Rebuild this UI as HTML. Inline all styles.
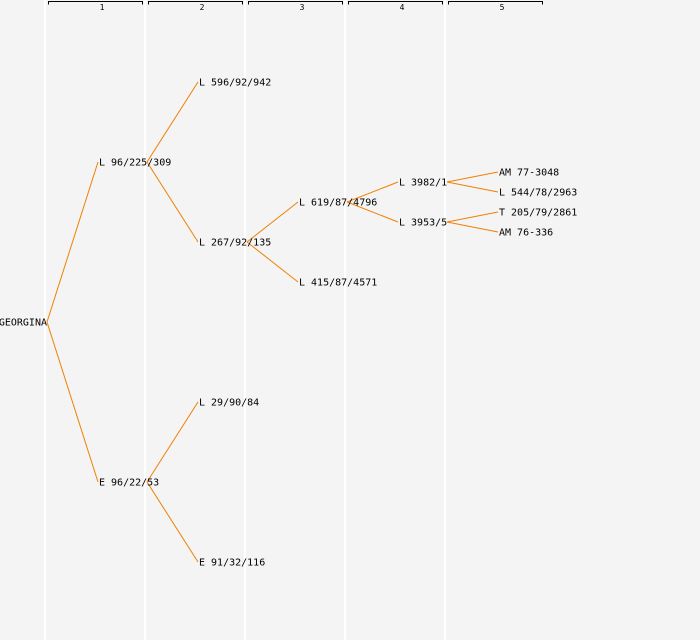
<!DOCTYPE html>
<html><head><meta charset="utf-8"><style>
html,body{margin:0;padding:0;background:#f4f4f4;}
svg{display:block;}
text{font-family:"DejaVu Sans Mono","Liberation Mono",monospace;font-size:10px;fill:#000;}
.n{font-size:8px;}
</style></head><body>
<svg width="700" height="640" viewBox="0 0 700 640">
<rect width="700" height="640" fill="#f4f4f4"/>
<g stroke="#fff" stroke-width="2">
<line x1="45" y1="0" x2="45" y2="640"/><line x1="145" y1="0" x2="145" y2="640"/>
<line x1="245" y1="0" x2="245" y2="640"/><line x1="345" y1="0" x2="345" y2="640"/>
<line x1="445" y1="0" x2="445" y2="640"/>
</g>
<g stroke="#000" fill="none" stroke-width="1">
<path d="M48.5,4.5V1.5H142.5V4.5"/><path d="M148.5,4.5V1.5H242.5V4.5"/>
<path d="M248.5,4.5V1.5H342.5V4.5"/><path d="M348.5,4.5V1.5H442.5V4.5"/>
<path d="M448.5,4.5V1.5H542.5V4.5"/>
</g>
<g text-anchor="middle">
<text class="n" x="102" y="10">1</text><text class="n" x="202" y="10">2</text>
<text class="n" x="302" y="10">3</text><text class="n" x="402" y="10">4</text>
<text class="n" x="502" y="10">5</text>
</g>
<g stroke="#f08000" stroke-width="1" fill="none">
<path d="M47,322L98,162M47,322L98,482"/>
<path d="M147,162L198,82M147,162L198,242M147,482L198,402M147,482L198,562"/>
<path d="M247,242L298,202M247,242L298,282"/>
<path d="M347,202L398,182M347,202L398,222"/>
<path d="M447,182L498,172M447,182L498,192M447,222L498,212M447,222L498,232"/>
</g>
<g dominant-baseline="central" transform="translate(0,1)">
<text x="47" y="322" text-anchor="end">GEORGINA</text>
<text x="99" y="162">L 96/225/309</text>
<text x="99" y="482">E 96/22/53</text>
<text x="199" y="82">L 596/92/942</text>
<text x="199" y="242">L 267/92/135</text>
<text x="199" y="402">L 29/90/84</text>
<text x="199" y="562">E 91/32/116</text>
<text x="299" y="202">L 619/87/4796</text>
<text x="299" y="282">L 415/87/4571</text>
<text x="399" y="182">L 3982/1</text>
<text x="399" y="222">L 3953/5</text>
<text x="499" y="172">AM 77-3048</text>
<text x="499" y="192">L 544/78/2963</text>
<text x="499" y="212">T 205/79/2861</text>
<text x="499" y="232">AM 76-336</text>
</g>
</svg>
</body></html>
